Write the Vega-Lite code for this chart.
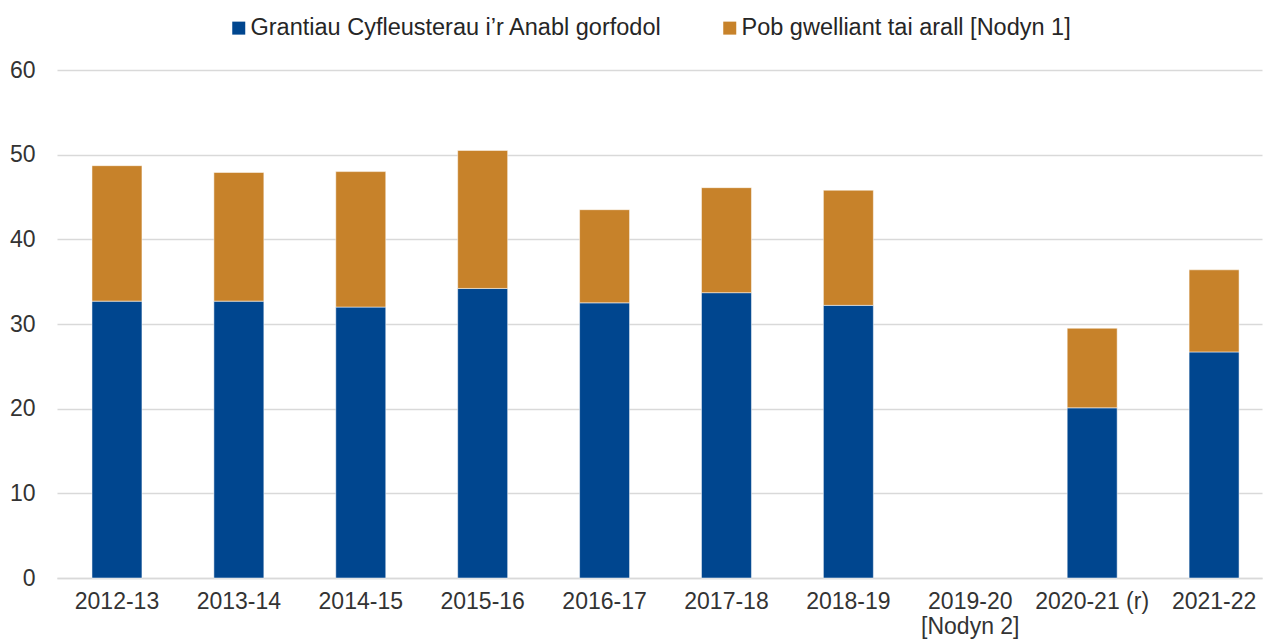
{
  "$schema": "https://vega.github.io/schema/vega-lite/v6.json",
  "width": 1205,
  "height": 508,
  "autosize": {"type": "none"},
  "padding": {"left": 57, "top": 70, "right": 2, "bottom": 66},
  "background": "white",
  "config": {
    "view": {"stroke": null},
    "font": "Liberation Sans",
    "text": {"font": "Liberation Sans"}
  },
  "data": {
    "values": [
      {"year": "2012-13", "series": "Grantiau Cyfleusterau i’r Anabl gorfodol", "value": 32.7},
      {"year": "2012-13", "series": "Pob gwelliant tai arall [Nodyn 1]", "value": 16.0},
      {"year": "2013-14", "series": "Grantiau Cyfleusterau i’r Anabl gorfodol", "value": 32.7},
      {"year": "2013-14", "series": "Pob gwelliant tai arall [Nodyn 1]", "value": 15.2},
      {"year": "2014-15", "series": "Grantiau Cyfleusterau i’r Anabl gorfodol", "value": 32.0},
      {"year": "2014-15", "series": "Pob gwelliant tai arall [Nodyn 1]", "value": 16.0},
      {"year": "2015-16", "series": "Grantiau Cyfleusterau i’r Anabl gorfodol", "value": 34.2},
      {"year": "2015-16", "series": "Pob gwelliant tai arall [Nodyn 1]", "value": 16.3},
      {"year": "2016-17", "series": "Grantiau Cyfleusterau i’r Anabl gorfodol", "value": 32.5},
      {"year": "2016-17", "series": "Pob gwelliant tai arall [Nodyn 1]", "value": 11.0},
      {"year": "2017-18", "series": "Grantiau Cyfleusterau i’r Anabl gorfodol", "value": 33.7},
      {"year": "2017-18", "series": "Pob gwelliant tai arall [Nodyn 1]", "value": 12.4},
      {"year": "2018-19", "series": "Grantiau Cyfleusterau i’r Anabl gorfodol", "value": 32.2},
      {"year": "2018-19", "series": "Pob gwelliant tai arall [Nodyn 1]", "value": 13.6},
      {"year": "2020-21 (r)", "series": "Grantiau Cyfleusterau i’r Anabl gorfodol", "value": 20.1},
      {"year": "2020-21 (r)", "series": "Pob gwelliant tai arall [Nodyn 1]", "value": 9.4},
      {"year": "2021-22", "series": "Grantiau Cyfleusterau i’r Anabl gorfodol", "value": 26.7},
      {"year": "2021-22", "series": "Pob gwelliant tai arall [Nodyn 1]", "value": 9.7}
    ]
  },
  "mark": {"type": "bar", "stroke": "#ffffff", "strokeWidth": 1, "strokeOpacity": 0.5},
  "encoding": {
    "x": {
      "field": "year",
      "type": "nominal",
      "scale": {
        "domain": ["2012-13", "2013-14", "2014-15", "2015-16", "2016-17", "2017-18", "2018-19", "2019-20", "2020-21 (r)", "2021-22"],
        "paddingInner": 0.59,
        "paddingOuter": 0.2375,
        "align": 0.604
      },
      "axis": {
        "title": null,
        "labelAngle": 0,
        "labelFont": "Liberation Sans",
        "labelFontSize": 23,
        "labelColor": "#333333",
        "labelPadding": 12,
        "labelLineHeight": 25,
        "ticks": false,
        "domain": true,
        "domainColor": "#d9d9d9",
        "domainWidth": 1.5,
        "grid": false,
        "labelExpr": "datum.value == '2019-20' ? ['2019-20', '[Nodyn 2]'] : datum.value"
      }
    },
    "y": {
      "field": "value",
      "type": "quantitative",
      "aggregate": "sum",
      "stack": "zero",
      "scale": {"domain": [0, 60], "nice": false},
      "axis": {
        "title": null,
        "values": [0, 10, 20, 30, 40, 50, 60],
        "labelFont": "Liberation Sans",
        "labelFontSize": 23,
        "labelColor": "#333333",
        "labelPadding": 22,
        "ticks": false,
        "domain": false,
        "grid": true,
        "gridColor": "#d9d9d9",
        "gridWidth": 1.5
      }
    },
    "color": {
      "field": "series",
      "type": "nominal",
      "scale": {
        "domain": ["Grantiau Cyfleusterau i’r Anabl gorfodol", "Pob gwelliant tai arall [Nodyn 1]"],
        "range": ["#00468f", "#c7822a"]
      },
      "legend": {
        "title": null,
        "orient": "none",
        "direction": "horizontal",
        "legendX": 170,
        "legendY": -54,
        "padding": 0,
        "symbolType": "square",
        "symbolSize": 169,
        "symbolStrokeWidth": 0,
        "labelFont": "Liberation Sans",
        "labelFontSize": 23.5,
        "labelColor": "#262626",
        "labelOffset": 0,
        "labelLimit": 600,
        "columnPadding": 56
      }
    },
    "order": {"field": "series", "sort": "ascending"}
  }
}
